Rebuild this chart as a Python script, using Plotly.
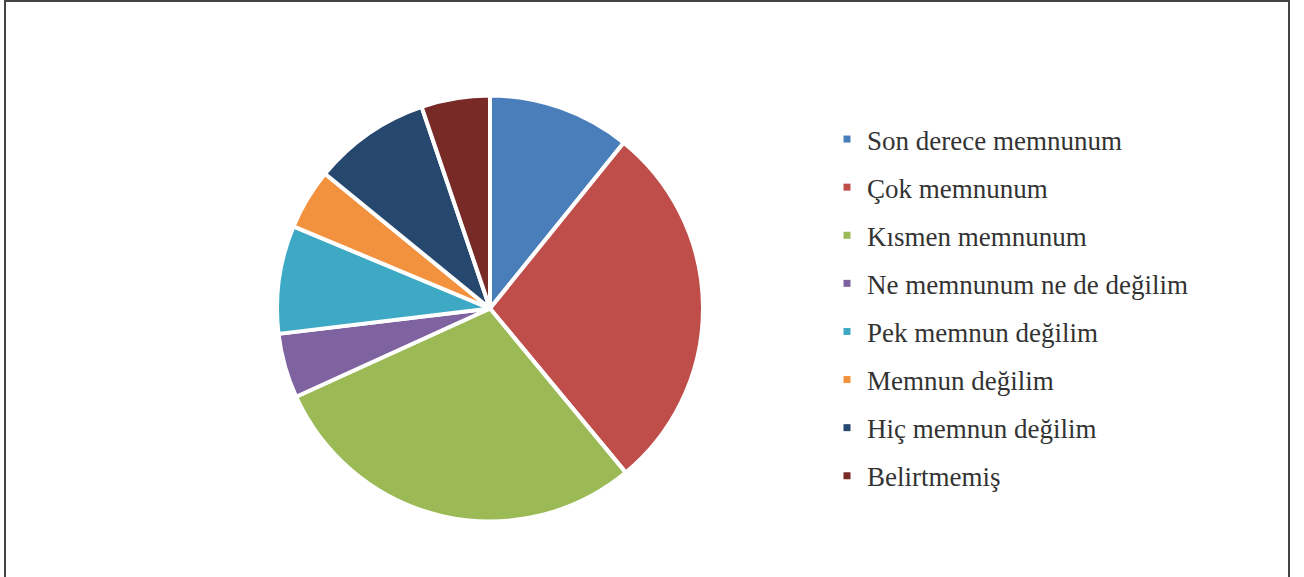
import plotly.graph_objects as go

labels = ["Son derece memnunum", "Çok memnunum", "Kısmen memnunum",
          "Ne memnunum ne de değilim", "Pek memnun değilim", "Memnun değilim",
          "Hiç memnun değilim", "Belirtmemiş"]
values = [10.8, 28.2, 29.2, 4.9, 8.2, 4.6, 8.9, 5.2]
colors = ["#4A7EBB", "#BF4E4B", "#9BBA55", "#7F62A0", "#3DA9C5",
          "#F2923F", "#26486F", "#772A26"]

W, H = 1304, 577
cx, cy, r = 490, 308.5, 213

fig = go.Figure()
fig.add_trace(go.Pie(
    labels=labels, values=values, sort=False, direction="clockwise",
    rotation=0, textinfo="none", hoverinfo="label+percent",
    marker=dict(colors=colors, line=dict(color="white", width=4)),
    showlegend=False,
    domain=dict(x=[(cx - r) / W, (cx + r) / W],
                y=[(H - cy - r) / H, (H - cy + r) / H]),
))

# legend entries (one legend group each so spacing can be controlled)
for lab, col in zip(labels, colors):
    fig.add_trace(go.Scatter(
        x=[None], y=[None], mode="markers", name=lab, legendgroup=lab,
        marker=dict(symbol="square", size=7, color=col),
        showlegend=True,
    ))

fig.update_layout(
    width=W, height=H,
    margin=dict(l=0, r=0, t=0, b=0),
    paper_bgcolor="white", plot_bgcolor="white",
    xaxis=dict(visible=False), yaxis=dict(visible=False),
    legend=dict(
        x=827 / W, xanchor="left",
        y=1 - 115 / H, yanchor="top",
        font=dict(family="Liberation Serif", size=27, color="#333333"),
        tracegroupgap=10,
        bgcolor="rgba(0,0,0,0)",
        itemclick=False, itemdoubleclick=False,
    ),
    shapes=[dict(type="rect", xref="paper", yref="paper",
                 x0=5 / W, x1=1289 / W, y0=-0.05, y1=1 - 1 / H,
                 line=dict(color="#444444", width=2))],
)

fig.write_html("out.html",
               config={"displayModeBar": False},
               post_script="document.body.style.margin='0';"
                           "document.body.style.overflow='hidden';")
